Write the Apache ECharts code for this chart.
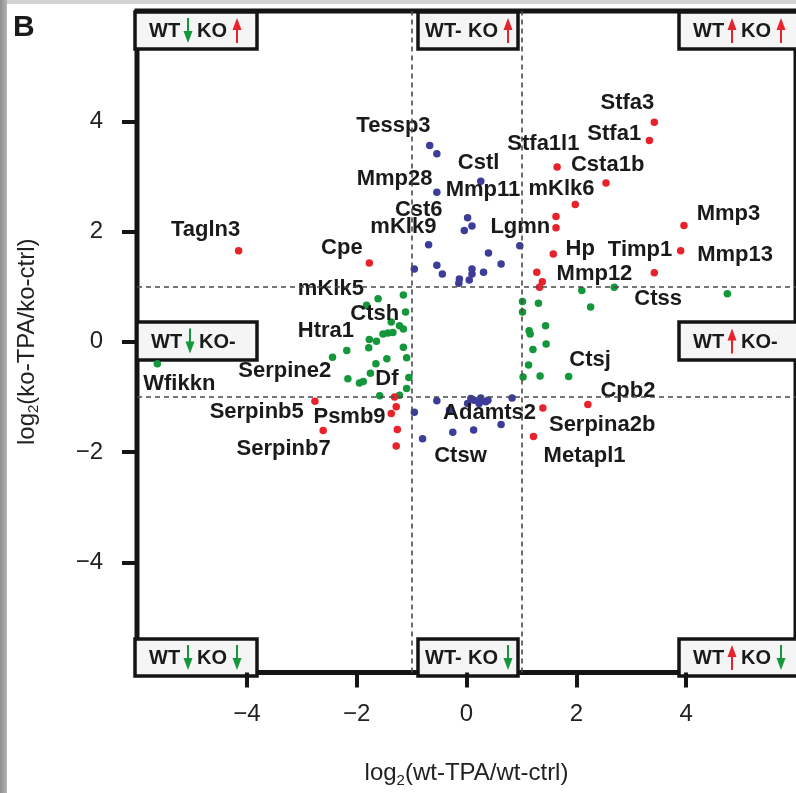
<!DOCTYPE html>
<html>
<head>
<meta charset="utf-8">
<script src="https://cdn.jsdelivr.net/npm/echarts@6/dist/echarts.min.js"></script>
<style>
  html, body { margin: 0; padding: 0; background: #ffffff; }
  #chart { width: 796px; height: 793px; }
</style>
</head>
<body>
<div id="chart"></div>
<script>
// log2 fold changes: x = wt-TPA vs wt-ctrl, y = ko-TPA vs ko-ctrl
const redPoints = [
  [3.42, 3.98], [3.33, 3.65], [1.65, 3.17], [2.54, 2.88], [1.98, 2.49],
  [1.63, 2.27], [1.63, 2.07], [3.96, 2.11], [3.90, 1.65], [1.58, 1.59],
  [3.42, 1.25], [1.28, 1.26], [1.38, 1.09], [1.33, 0.99],
  [-4.15, 1.65], [-1.77, 1.43],
  [-2.76, -1.08], [-2.61, -1.61], [-1.31, -1.00], [-1.28, -1.18],
  [-1.37, -1.30], [-1.26, -1.59], [-1.28, -1.89],
  [1.39, -1.20], [2.21, -1.14], [1.22, -1.72]
];
const bluePoints = [
  [-0.67, 3.56], [-0.54, 3.41], [0.26, 2.91], [-0.54, 2.71], [0.02, 2.25],
  [0.10, 2.10], [-0.04, 2.02], [-0.69, 1.76], [0.97, 1.74], [0.40, 1.61],
  [0.63, 1.41], [-0.95, 1.32], [-0.54, 1.39], [-0.44, 1.23], [0.31, 1.26],
  [0.10, 1.32], [0.10, 1.23], [0.05, 1.12], [-0.13, 1.14], [-0.14, 1.06],
  [-0.54, -1.07], [-0.95, -1.28], [-0.80, -1.76], [-0.25, -1.64], [0.13, -1.60],
  [0.63, -1.50], [0.83, -1.02], [0.02, -1.12], [0.14, -1.06], [0.26, -1.02],
  [0.35, -1.09], [0.23, -1.12], [0.39, -1.06], [-0.31, -1.24], [0.08, -1.03]
];
const greenPoints = [
  [2.10, 0.93], [2.69, 0.99], [4.75, 0.87], [2.26, 0.63],
  [1.02, 0.73], [1.31, 0.70], [1.02, 0.54], [1.44, 0.29], [1.14, 0.20],
  [1.16, 0.14], [1.45, -0.04], [1.21, -0.14], [1.13, -0.42], [1.03, -0.64],
  [1.34, -0.62], [1.86, -0.63],
  [-1.61, 0.78], [-1.15, 0.85], [-1.82, 0.66], [-1.11, 0.54], [-1.37, 0.36],
  [-1.22, 0.29], [-1.15, 0.23], [-1.52, 0.14], [-1.43, 0.16], [-1.34, 0.17],
  [-1.77, 0.04], [-1.64, 0.01], [-1.78, -0.11], [-2.18, -0.16], [-1.15, -0.10],
  [-2.44, -0.28], [-1.45, -0.31], [-1.09, -0.29], [-1.65, -0.40], [-1.75, -0.57],
  [-2.16, -0.67], [-1.95, -0.75], [-1.88, -0.72], [-1.05, -0.65], [-1.09, -0.85],
  [-1.58, -0.98], [-1.22, -0.97],
  [-5.63, -0.40]
];

// gene names and the point in data space where each name is centred
const geneNames = [
  'Tessp3', 'Stfa3', 'Stfa1', 'Stfa1l1', 'Cstl', 'Csta1b', 'Mmp28', 'Mmp11',
  'mKlk6', 'Cst6', 'Mmp3', 'Tagln3', 'mKlk9', 'Lgmn', 'Cpe', 'Hp', 'Timp1',
  'Mmp13', 'Mmp12', 'mKlk5', 'Ctss', 'Ctsh', 'Htra1', 'Ctsj', 'Serpine2',
  'Wfikkn', 'Df', 'Cpb2', 'Serpinb5', 'Psmb9', 'Adamts2', 'Serpina2b',
  'Serpinb7', 'Ctsw', 'Metapl1'
];
const geneLabelX = [
  -1.33, 2.93, 2.69, 1.40, 0.22, 2.57, -1.31, 0.30,
  1.73, -0.87, 4.77, -4.75, -1.15, 0.98, -2.27, 2.07, 3.16,
  4.89, 2.33, -2.47, 3.49, -1.67, -2.56, 2.25, -3.31,
  -5.23, -1.45, 2.94, -3.82, -2.13, 0.42, 2.47,
  -3.33, -0.11, 2.15
];
const geneLabelY = [
  3.91, 4.33, 3.77, 3.58, 3.24, 3.21, 2.95, 2.75,
  2.77, 2.40, 2.32, 2.02, 2.08, 2.08, 1.70, 1.68, 1.66,
  1.57, 1.23, 0.96, 0.78, 0.51, 0.20, -0.33, -0.53,
  -0.76, -0.67, -0.90, -1.28, -1.36, -1.30, -1.50,
  -1.95, -2.08, -2.08
];

const tickValues = [-4, -2, 0, 2, 4];
const cutoffs = [-1, 1];

const FONT = "'Liberation Sans', Arial, Helvetica, sans-serif";
const RED = '#e8222a';
const BLUE = '#3b3d99';
const GREEN = '#14963a';
const INK = '#1a1a1a';

const chart = echarts.init(document.getElementById('chart'), null, { renderer: 'canvas' });

const labelData = geneNames.map((n, i) => ({ name: n, value: [geneLabelX[i], geneLabelY[i]] }));

function fmtTick(v) { return String(v).replace('-', '\u2212'); }

// small vertical arrow used inside the corner boxes
function arrow(cx, top, dir, color) {
  const len = 25;
  const headH = 12, headW = 9;
  const y0 = top, y1 = top + len;
  const children = [];
  if (dir === 'up') {
    children.push({ type: 'line', shape: { x1: cx, y1: y0 + headH - 2, x2: cx, y2: y1 }, style: { stroke: color, lineWidth: 2 } });
    children.push({ type: 'polygon', shape: { points: [[cx, y0], [cx - headW / 2, y0 + headH], [cx + headW / 2, y0 + headH]] }, style: { fill: color } });
  } else {
    children.push({ type: 'line', shape: { x1: cx, y1: y0, x2: cx, y2: y1 - headH + 2 }, style: { stroke: color, lineWidth: 2 } });
    children.push({ type: 'polygon', shape: { points: [[cx, y1], [cx - headW / 2, y1 - headH], [cx + headW / 2, y1 - headH]] }, style: { fill: color } });
  }
  return children;
}

function boxText(x, y, s) {
  return { type: 'text', x: x, y: y, style: { text: s, fill: INK, font: 'bold 20px ' + FONT, textAlign: 'left', textVerticalAlign: 'middle' } };
}

// quadrant box: wt / ko states are 'up', 'down' or 'none'
function quadrantBox(x, y, w, h, wt, ko) {
  const cy = y + h / 2 + 1;
  const atop = y + (h - 25) / 2;
  const children = [
    { type: 'rect', shape: { x: x, y: y, width: w, height: h }, style: { fill: '#f5f5f5', stroke: '#141414', lineWidth: 3.5 } }
  ];
  let koX;
  if (wt === 'none') {
    children.push(boxText(x + 7, cy, 'WT-'));
    koX = x + 50;
  } else {
    children.push(boxText(x + 14, cy, 'WT'));
    children.push(...arrow(x + 53, atop, wt, wt === 'up' ? RED : GREEN));
    koX = x + 62;
  }
  if (ko === 'none') {
    children.push(boxText(koX, cy, 'KO-'));
  } else {
    children.push(boxText(koX, cy, 'KO'));
    children.push(...arrow(koX + 40, atop, ko, ko === 'up' ? RED : GREEN));
  }
  return { type: 'group', z: 100, children: children };
}

const axisCommon = {
  type: 'value', min: -6, max: 6, interval: 2,
  axisLine: { show: false, onZero: false },
  axisTick: { show: true, inside: false, customValues: tickValues, length: 15, lineStyle: { color: '#141414', width: 4 } },
  splitLine: { show: false },
  nameLocation: 'middle',
  nameTextStyle: {
    rich: {
      a: { fontSize: 24, fontFamily: FONT, color: '#222', lineHeight: 30 },
      s: { fontSize: 15, fontFamily: FONT, color: '#222', lineHeight: 30, padding: [14, 0, 0, 0] }
    }
  }
};

const option = {
  backgroundColor: '#ffffff',
  animation: false,
  grid: {
    left: 137, right: -1, top: 11, bottom: 118,
    show: true, borderColor: '#141414', borderWidth: 5, backgroundColor: '#ffffff'
  },
  xAxis: Object.assign({}, axisCommon, {
    position: 'bottom',
    axisLabel: { customValues: tickValues, formatter: fmtTick, fontSize: 24, color: '#222', fontFamily: FONT, margin: 30 },
    name: '{a|log}{s|2}{a|(wt-TPA/wt-ctrl)}',
    nameGap: 86
  }),
  yAxis: Object.assign({}, axisCommon, {
    position: 'left',
    axisLabel: { customValues: tickValues, formatter: fmtTick, fontSize: 24, color: '#222', fontFamily: FONT, margin: 34 },
    name: '{a|log}{s|2}{a|(ko-TPA/ko-ctrl)}',
    nameGap: 95, nameRotate: 90
  }),
  series: [
    {
      name: 'cutoffs', type: 'scatter', data: [], silent: true,
      markLine: {
        silent: true, symbol: 'none', animation: false,
        label: { show: false },
        lineStyle: { type: [5, 4], color: '#4a4a4a', width: 1.6 },
        data: cutoffs.map(v => ({ xAxis: v })).concat(cutoffs.map(v => ({ yAxis: v })))
      }
    },
    { name: 'unchanged WT', type: 'scatter', data: bluePoints, symbolSize: 7.5, itemStyle: { color: BLUE, opacity: 1 }, z: 3 },
    { name: 'opposite', type: 'scatter', data: greenPoints, symbolSize: 7.5, itemStyle: { color: GREEN, opacity: 1 }, z: 3 },
    { name: 'same', type: 'scatter', data: redPoints, symbolSize: 7.5, itemStyle: { color: RED, opacity: 1 }, z: 3 },
    {
      name: 'genes', type: 'scatter', data: labelData, symbolSize: 1, z: 4,
      itemStyle: { color: 'rgba(0,0,0,0)', opacity: 1 },
      label: {
        show: true, position: 'inside', formatter: p => p.name, opacity: 1,
        fontFamily: FONT, fontWeight: 'bold', fontSize: 22, color: INK
      }
    }
  ],
  graphic: [
    { type: 'rect', z: 200, shape: { x: 0, y: 0, width: 796, height: 4 }, style: { fill: '#d2d2d2' } },
    {
      type: 'rect', z: 200, shape: { x: 0, y: 0, width: 7, height: 793 },
      style: { fill: new echarts.graphic.LinearGradient(0, 0, 1, 0, [{ offset: 0, color: '#8f8f8f' }, { offset: 1, color: '#b4b4b4' }]) }
    },
    { type: 'text', z: 200, x: 13, y: 13, style: { text: 'B', fill: '#1a1a1a', font: 'bold 30px ' + FONT, textVerticalAlign: 'top' } },
    quadrantBox(135, 12, 122, 37, 'down', 'up'),
    quadrantBox(418, 12, 100, 37, 'none', 'up'),
    quadrantBox(679, 12, 130, 37, 'up', 'up'),
    quadrantBox(137, 322, 120, 38, 'down', 'none'),
    quadrantBox(679, 322, 130, 38, 'up', 'none'),
    quadrantBox(135, 639, 122, 37, 'down', 'down'),
    quadrantBox(418, 639, 100, 37, 'none', 'down'),
    quadrantBox(679, 639, 130, 37, 'up', 'down')
  ]
};

chart.setOption(option);
</script>
</body>
</html>
